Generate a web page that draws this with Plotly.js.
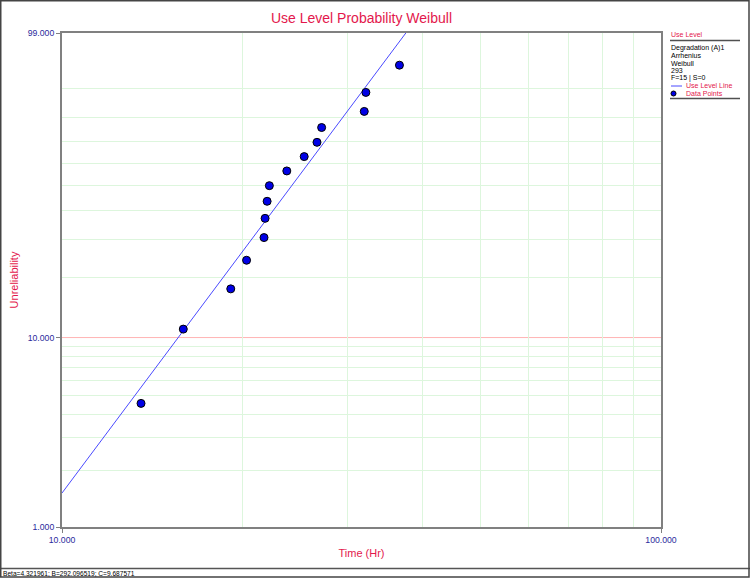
<!DOCTYPE html>
<html>
<head>
<meta charset="utf-8">
<script src="https://cdn.plot.ly/plotly-3.0.1.min.js"></script>
<style>
  html, body { margin: 0; padding: 0; background: #ffffff; }
  #chart { width: 750px; height: 578px; }
</style>
</head>
<body>
<div id="chart"></div>
<script>
// ---- data ----
const timeHr = [13.55, 15.94, 19.13, 20.33, 21.74, 21.83, 22.00, 22.19, 23.73, 25.37, 26.65, 27.13, 31.96, 32.16, 36.59];
const unrelPct = [4.55, 11.04, 17.53, 24.03, 30.52, 37.01, 43.51, 50.00, 56.49, 62.99, 69.48, 75.97, 82.47, 88.96, 95.45];
const lineTime = [10, 37.5];
const lineUnrel = [1.52, 99];
const yTickVals = [1, 10, 99];
const yTickText = ['1.000', '10.000', '99.000'];
const yGridVals = [2, 3, 4, 5, 6, 7, 8, 9, 20, 30, 40, 50, 60, 70, 80, 90];
const yRefLine = 10;
const xTickVals = [10, 100];
const xTickText = ['10.000', '100.000'];
const xGridVals = [20, 30, 40, 50, 60, 70, 80, 90];
const legendLines = ['Degradation (A)1', 'Arrhenius', 'Weibull', '293', 'F=15 | S=0'];
const statusText = 'Beta=4.321961; B=292.096519; C=9.687571';

// Weibull probability scale transform
const wb = p => Math.log(-Math.log(1 - p / 100));

const W = 750, H = 578;
const M = {l: 62, r: 89, t: 33, b: 51};
const PW = W - M.l - M.r, PH = H - M.t - M.b;
const px = x => (x - M.l) / PW;
const py = y => (H - M.b - y) / PH;

const RED = '#e3174c';
const NAVY = '#2a2a9c';
const FONT = 'Liberation Sans, Arial, sans-serif';
const LSIZE = 7;

const traces = [
  {
    x: lineTime, y: lineUnrel.map(wb), type: 'scatter', mode: 'lines',
    line: {color: '#4a4aff', width: 1}, hoverinfo: 'skip', showlegend: false
  },
  {
    x: timeHr, y: unrelPct.map(wb), type: 'scatter', mode: 'markers',
    marker: {color: '#0000e6', size: 8, line: {color: '#000000', width: 1}},
    showlegend: false
  }
];

const annotations = [];
const note = (x, y, text, color, size) => annotations.push({
  xref: 'paper', yref: 'paper', x: px(x), y: py(y), xanchor: 'left', yanchor: 'middle',
  text: text, showarrow: false, borderpad: 0, font: {family: FONT, size: size || LSIZE, color: color}
});
note(670, 34.5, 'Use Level', RED);
const legY = [48, 55.6, 63.2, 70.8, 78.4];
legendLines.forEach((t, i) => note(670, legY[i], t, '#000000'));
note(684.5, 86, 'Use Level Line', RED);
note(684.5, 93.6, 'Data Points', RED);
note(2, 573.5, statusText, '#000000', 6.6);

const shapes = [
  // 10% reference line (pink)
  {type: 'line', xref: 'paper', yref: 'y', x0: 0, x1: 1, y0: wb(yRefLine), y1: wb(yRefLine), layer: 'below', line: {color: '#ffb4b4', width: 1}},
  // legend separators
  {type: 'line', xref: 'paper', yref: 'paper', x0: px(670), x1: px(740), y0: py(40.5), y1: py(40.5), line: {color: '#505050', width: 1.5}},
  {type: 'line', xref: 'paper', yref: 'paper', x0: px(670), x1: px(740), y0: py(98.5), y1: py(98.5), line: {color: '#505050', width: 1.5}},
  // legend glyphs
  {type: 'line', xref: 'paper', yref: 'paper', x0: px(671), x1: px(682), y0: py(86), y1: py(86), line: {color: '#4a4aff', width: 1}},
  {type: 'circle', xref: 'paper', yref: 'paper', x0: px(671), x1: px(676), y0: py(96), y1: py(91), fillcolor: '#0000e6', line: {color: '#000', width: 1}},
  // status bar separator
  {type: 'line', xref: 'paper', yref: 'paper', x0: px(0), x1: px(750), y0: py(568.5), y1: py(568.5), line: {color: '#555555', width: 1.5}},
  // outer border
  {type: 'rect', xref: 'paper', yref: 'paper', x0: px(0.75), x1: px(749), y0: py(0.75), y1: py(577), line: {color: '#444444', width: 1.5}}
];

const layout = {
  width: W, height: H,
  margin: M,
  paper_bgcolor: '#ffffff', plot_bgcolor: '#ffffff',
  font: {family: FONT, size: 8.7, color: NAVY},
  showlegend: false,
  title: {text: 'Use Level Probability Weibull', font: {family: FONT, size: 14, color: RED},
    xref: 'paper', x: 0.5, xanchor: 'center', yref: 'container', y: 1 - 18 / H, yanchor: 'middle'},
  xaxis: {
    type: 'log', range: [1, 2],
    tickmode: 'array', tickvals: xTickVals, ticktext: xTickText,
    ticks: 'outside', ticklen: 4, tickcolor: '#808080',
    tickfont: {family: FONT, size: 8.7, color: NAVY},
    showgrid: false, zeroline: false,
    showline: true, mirror: true, linecolor: '#808080', linewidth: 2,
    minor: {tickmode: 'array', tickvals: xGridVals, showgrid: true, gridcolor: '#ddf6dd', gridwidth: 1, ticks: ''},
    title: {text: 'Time (Hr)', font: {family: FONT, size: 11, color: RED}, standoff: 5}
  },
  yaxis: {
    range: [wb(1), wb(99)],
    tickmode: 'array', tickvals: yTickVals.map(wb), ticktext: yTickText,
    ticks: 'outside', ticklen: 4, tickcolor: '#808080',
    tickfont: {family: FONT, size: 8.7, color: NAVY},
    showgrid: false, zeroline: false,
    showline: true, mirror: true, linecolor: '#808080', linewidth: 2,
    minor: {tickmode: 'array', tickvals: yGridVals.map(wb), showgrid: true, gridcolor: '#ddf6dd', gridwidth: 1, ticks: ''},
    title: {text: 'Unreliability', font: {family: FONT, size: 11, color: RED}, standoff: 7}
  },
  annotations: annotations,
  shapes: shapes
};

Plotly.newPlot('chart', traces, layout, {displayModeBar: false, staticPlot: true});
</script>
</body>
</html>
